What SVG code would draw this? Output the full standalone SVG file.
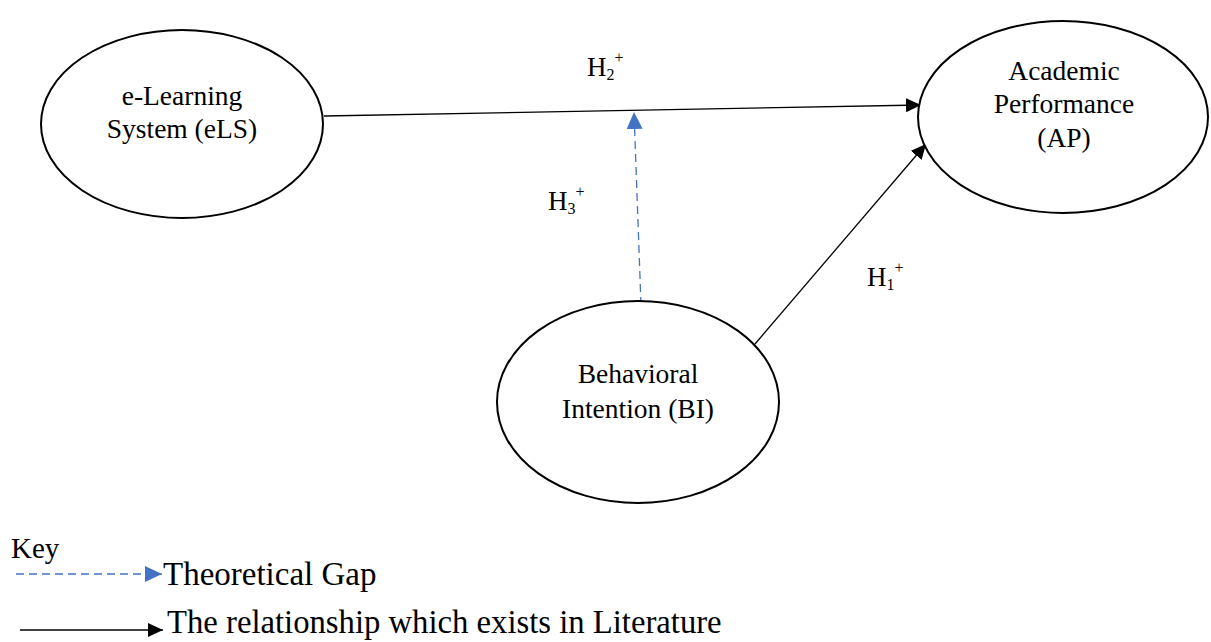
<svg xmlns="http://www.w3.org/2000/svg" width="1211" height="642" viewBox="0 0 1211 642">
<style>
.node{fill:#fff;stroke:#000;stroke-width:2}
text{font-family:'Liberation Serif','DejaVu Serif',serif;fill:#000}
.lbl{font-size:27.5px;text-anchor:middle}
.h{font-size:27px}
.solid{fill:none;stroke:#000;stroke-width:1.3}
.dash{fill:none;stroke:#4472C4;stroke-width:1.3;stroke-dasharray:8 5}
</style>
<defs>
<marker id="ab" markerUnits="userSpaceOnUse" markerWidth="16" markerHeight="14" refX="15" refY="7" orient="auto"><path d="M0,0 L15,7 L0,14 z" fill="#000"/></marker>
<marker id="abl" markerUnits="userSpaceOnUse" markerWidth="17" markerHeight="16" refX="17" refY="8" orient="auto"><path d="M0,0 L17,8 L0,16 z" fill="#4472C4"/></marker>
</defs>
<g id="connectors">
<line class="solid" x1="324" y1="116" x2="921" y2="105" marker-end="url(#ab)"/>
<line class="solid" x1="755" y1="344" x2="926" y2="144" marker-end="url(#ab)"/>
<line class="dash" x1="641" y1="305" x2="634" y2="112" marker-end="url(#abl)"/>
</g>
<g id="eLS">
<ellipse class="node" cx="182" cy="124" rx="141" ry="94"/>
<text class="lbl" x="182" y="105">e-Learning</text>
<text class="lbl" x="182" y="138">System (eLS)</text>
</g>
<g id="AP">
<ellipse class="node" cx="1063" cy="117" rx="145" ry="96"/>
<text class="lbl" x="1064" y="80">Academic</text>
<text class="lbl" x="1064" y="113">Performance</text>
<text class="lbl" x="1064" y="147">(AP)</text>
</g>
<g id="BI">
<ellipse class="node" cx="638" cy="402" rx="141" ry="101"/>
<text class="lbl" x="638" y="383">Behavioral</text>
<text class="lbl" x="638" y="418">Intention (BI)</text>
</g>
<g id="labels">
<text class="h" x="587" y="76">H<tspan font-size="16" dy="4">2</tspan><tspan font-size="16" dy="-17">+</tspan></text>
<text class="h" x="548" y="210">H<tspan font-size="16" dy="4">3</tspan><tspan font-size="16" dy="-17">+</tspan></text>
<text class="h" x="867" y="286">H<tspan font-size="16" dy="4">1</tspan><tspan font-size="16" dy="-17">+</tspan></text>
</g>
<g id="legend">
<text x="11" y="558" font-size="29">Key</text>
<line class="dash" x1="16" y1="574" x2="162" y2="574" marker-end="url(#abl)"/>
<text x="163" y="585" font-size="33">Theoretical Gap</text>
<line class="solid" x1="20" y1="630" x2="163" y2="630" marker-end="url(#ab)"/>
<text x="167" y="633" font-size="32.7">The relationship which exists in Literature</text>
</g>
</svg>
